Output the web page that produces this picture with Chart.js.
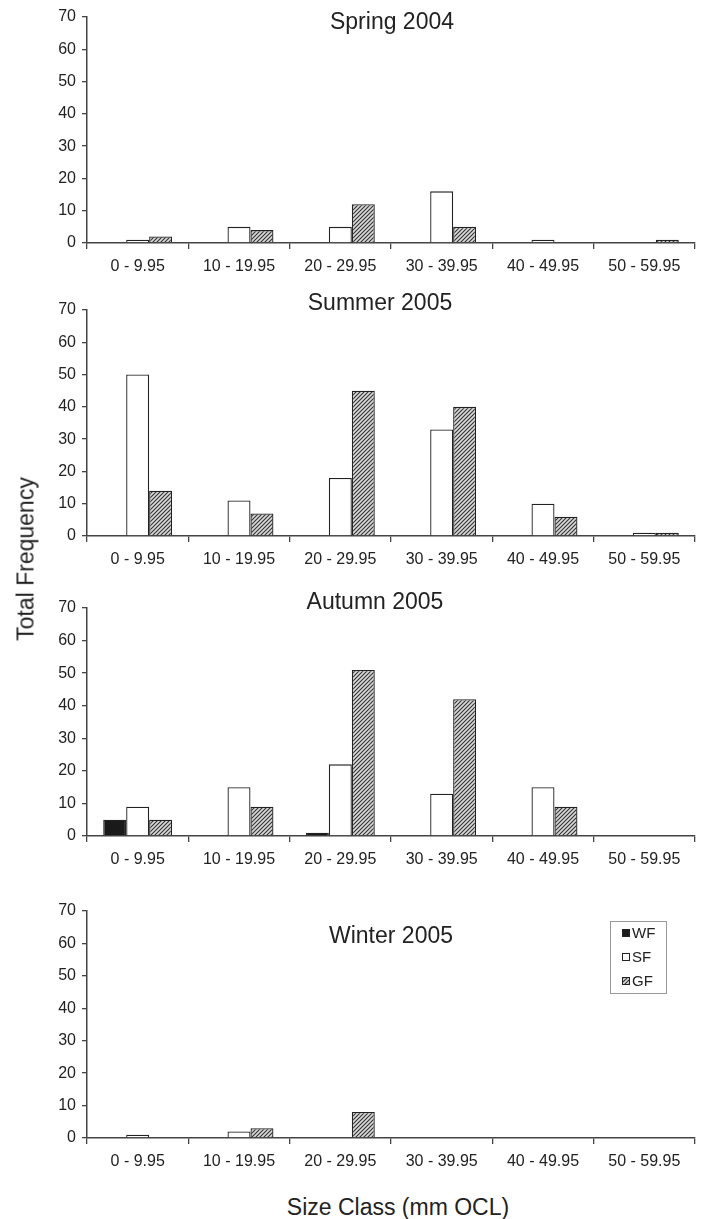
<!DOCTYPE html>
<html>
<head>
<meta charset="utf-8">
<script src="https://cdn.jsdelivr.net/npm/chart.js@4.4.1/dist/chart.umd.min.js"></script>
<style>
  body { margin: 0; background: #fff; width: 706px; height: 1219px; position: relative; overflow: hidden; font-family: "Liberation Sans", Arial, sans-serif; color: #222; }
  .panel { position: absolute; left: 0; width: 706px; }
  #yTitle { position: absolute; left: 26px; top: 559px; transform: translate(-50%, -50%) rotate(-90deg); font-size: 23px; white-space: nowrap; }
  #xTitle { position: absolute; left: 398px; top: 1207px; transform: translate(-50%, -50%); font-size: 23px; white-space: nowrap; }
</style>
</head>
<body>
<div class="panel" id="p0"><canvas id="c0"></canvas></div>
<div class="panel" id="p1"><canvas id="c1"></canvas></div>
<div class="panel" id="p2"><canvas id="c2"></canvas></div>
<div class="panel" id="p3"><canvas id="c3"></canvas></div>
<div id="yTitle">Total Frequency</div>
<div id="xTitle">Size Class (mm OCL)</div>
<script>
// Données
const sizeClasses = ['0 - 9.95', '10 - 19.95', '20 - 29.95', '30 - 39.95', '40 - 49.95', '50 - 59.95'];
const seriesNames = ['WF', 'SF', 'GF'];
const yTicks = [0, 10, 20, 30, 40, 50, 60, 70];

const spring2004WF = [0, 0, 0, 0, 0, 0];
const spring2004SF = [1, 5, 5, 16, 1, 0];
const spring2004GF = [2, 4, 12, 5, 0, 1];

const summer2005WF = [0, 0, 0, 0, 0, 0];
const summer2005SF = [50, 11, 18, 33, 10, 1];
const summer2005GF = [14, 7, 45, 40, 6, 1];

const autumn2005WF = [5, 0, 1, 0, 0, 0];
const autumn2005SF = [9, 15, 22, 13, 15, 0];
const autumn2005GF = [5, 9, 51, 42, 9, 0];

const winter2005WF = [0, 0, 0, 0, 0, 0];
const winter2005SF = [1, 2, 0, 0, 0, 0];
const winter2005GF = [0, 3, 8, 0, 0, 0];

const panels = [
    { title: 'Spring 2004', wf: spring2004WF, sf: spring2004SF, gf: spring2004GF, top: 17, bottom: 243, titleX: 392, titleDy: 6, legend: false },
    { title: 'Summer 2005', wf: summer2005WF, sf: summer2005SF, gf: summer2005GF, top: 310, bottom: 536, titleX: 380, titleDy: -6, legend: false },
    { title: 'Autumn 2005', wf: autumn2005WF, sf: autumn2005SF, gf: autumn2005GF, top: 608, bottom: 836, titleX: 375, titleDy: -5, legend: false },
    { title: 'Winter 2005', wf: winter2005WF, sf: winter2005SF, gf: winter2005GF, top: 911, bottom: 1138, titleX: 391, titleDy: 26, legend: true }
];

Chart.defaults.font.family = '"Liberation Sans", Arial, sans-serif';
Chart.defaults.color = '#222';

// Motif hachuré pour GF
function makeHatch() {
    const c = document.createElement('canvas');
    c.width = 4; c.height = 4;
    const x = c.getContext('2d');
    x.fillStyle = '#d8d8d8';
    x.fillRect(0, 0, 4, 4);
    x.strokeStyle = '#333';
    x.lineWidth = 1.1;
    x.beginPath();
    x.moveTo(-1, 5); x.lineTo(5, -1);
    x.moveTo(-1, 1); x.lineTo(1, -1);
    x.moveTo(3, 5); x.lineTo(5, 3);
    x.stroke();
    return x.createPattern(c, 'repeat');
}
const hatch = makeHatch();
const fills = ['#1a1a1a', '#ffffff', hatch];

const PAD_TOP = 30;
const X_AXIS_H = 40;

// Titre de chaque panneau
const panelTitle = {
    id: 'panelTitle',
    afterDraw(chart, args, opts) {
        const a = chart.chartArea;
        const ctx = chart.ctx;
        ctx.save();
        ctx.font = '23px "Liberation Sans", Arial, sans-serif';
        ctx.fillStyle = '#222';
        ctx.textAlign = 'center';
        ctx.textBaseline = 'middle';
        ctx.fillText(opts.text, opts.x, a.top + opts.dy);
        ctx.restore();
    }
};

// Légende encadrée à l'intérieur du graphique
const boxLegend = {
    id: 'boxLegend',
    afterDraw(chart, args, opts) {
        if (!opts.show) return;
        const a = chart.chartArea;
        const ctx = chart.ctx;
        const top = a.top + 10;
        const left = 610;
        ctx.save();
        ctx.strokeStyle = '#999';
        ctx.lineWidth = 1;
        ctx.strokeRect(left + 0.5, top + 0.5, 56, 72);
        ctx.font = '15px "Liberation Sans", Arial, sans-serif';
        ctx.textBaseline = 'middle';
        chart.data.datasets.forEach(function(ds, i) {
            const cy = top + 12 + i * 24;
            ctx.fillStyle = ds.backgroundColor;
            ctx.fillRect(left + 12, cy - 4, 8, 8);
            ctx.strokeStyle = '#222';
            ctx.strokeRect(left + 12.5, cy - 3.5, 7, 7);
            ctx.fillStyle = '#222';
            ctx.fillText(ds.label, left + 22, cy + 1);
        });
        ctx.restore();
    }
};

panels.forEach(function(p, idx) {
    const holder = document.getElementById('p' + idx);
    const canvas = document.getElementById('c' + idx);
    const h = PAD_TOP + (p.bottom - p.top) + X_AXIS_H;
    holder.style.top = (p.top - PAD_TOP) + 'px';
    canvas.width = 706;
    canvas.height = h;

    const values = [p.wf, p.sf, p.gf];
    const datasets = seriesNames.map(function(name, i) {
        return {
            label: name,
            data: values[i].map(function(v) { return v === 0 ? null : v; }),
            backgroundColor: fills[i],
            borderColor: '#222',
            borderWidth: 1.3,
            borderSkipped: 'bottom',
            barPercentage: 1.0,
            categoryPercentage: 0.68
        };
    });

    new Chart(canvas.getContext('2d'), {
        type: 'bar',
        data: { labels: sizeClasses, datasets: datasets },
        options: {
            responsive: false,
            animation: false,
            layout: { padding: { top: PAD_TOP, right: 11, left: 0, bottom: 0 } },
            plugins: {
                legend: { display: false },
                tooltip: { enabled: false },
                panelTitle: { text: p.title, x: p.titleX, dy: p.titleDy },
                boxLegend: { show: p.legend }
            },
            scales: {
                x: {
                    grid: { drawOnChartArea: false, offset: true, tickLength: 6, color: '#444', lineWidth: 1.3 },
                    border: { color: '#444', width: 1.5 },
                    ticks: { font: { size: 16 }, padding: 8, maxRotation: 0, autoSkip: false },
                    afterFit: function(scale) { scale.height = X_AXIS_H; }
                },
                y: {
                    min: 0,
                    max: yTicks[yTicks.length - 1],
                    afterBuildTicks: function(scale) { scale.ticks = yTicks.map(function(v) { return { value: v }; }); },
                    grid: { drawOnChartArea: false, tickLength: 5, color: '#444', lineWidth: 1.3 },
                    border: { color: '#444', width: 1.5 },
                    ticks: { font: { size: 16 }, padding: 6 },
                    afterFit: function(scale) { scale.width = 87; }
                }
            }
        },
        plugins: [panelTitle, boxLegend]
    });
});
</script>
</body>
</html>
